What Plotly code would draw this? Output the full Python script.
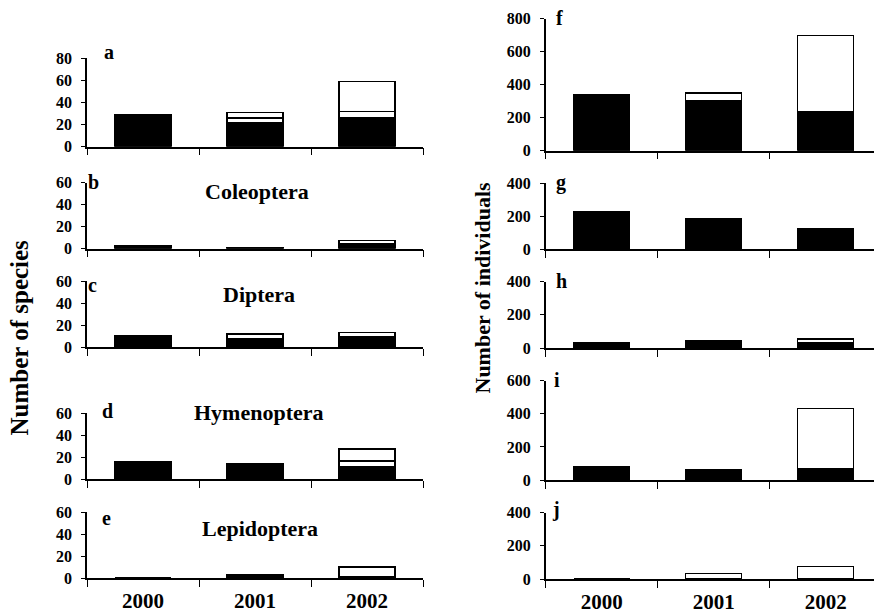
import plotly.graph_objects as go

W, H = 874, 616

years = ["2000", "2001", "2002"]

# ---- Number of species (left column) ----
a_black = [29, 22, 26]
a_white1 = [0, 4, 6]
a_white2 = [0, 5, 27]

b_black = [3, 1, 5]
b_white = [0, 0, 2.5]

c_black = [10, 8, 9]
c_white = [0, 4, 4.5]

d_black = [16, 13, 11]
d_white1 = [0, 1, 5.5]
d_white2 = [0, 0, 11]

e_black = [0, 3, 1]
e_white = [0, 0, 9]

# ---- Number of individuals (right column) ----
f_black = [337, 301, 234]
f_white = [0, 49, 465]

g_black = [230, 185, 125]

h_black = [35, 45, 33]
h_white = [0, 0, 22]

i_black = [80, 60, 68]
i_white = [0, 5, 365]

j_black = [0, 3, 0]
j_white = [0, 29, 77]

species_ticks_a = [0, 20, 40, 60, 80]
species_ticks = [0, 20, 40, 60]
ind_ticks_f = [0, 200, 400, 600, 800]
ind_ticks_i = [0, 200, 400, 600]
ind_ticks = [0, 200, 400]

BLACK, WHITE = "black", "white"

# panel: letter, title, list of (values, fill), ymax, ticks, column, top px, bottom px
panels = [
    ("a", None, [(a_black, BLACK), (a_white1, WHITE), (a_white2, WHITE)], 80, species_ticks_a, 0, 58, 146.7),
    ("b", "Coleoptera", [(b_black, BLACK), (b_white, WHITE)], 60, species_ticks, 0, 182.7, 248.7),
    ("c", "Diptera", [(c_black, BLACK), (c_white, WHITE)], 60, species_ticks, 0, 281.3, 347),
    ("d", "Hymenoptera", [(d_black, BLACK), (d_white1, WHITE), (d_white2, WHITE)], 60, species_ticks, 0, 413.3, 479.3),
    ("e", "Lepidoptera", [(e_black, BLACK), (e_white, WHITE)], 60, species_ticks, 0, 512.3, 578),
    ("f", None, [(f_black, BLACK), (f_white, WHITE)], 800, ind_ticks_f, 1, 18.7, 150.7),
    ("g", None, [(g_black, BLACK)], 400, ind_ticks, 1, 183.3, 249),
    ("h", None, [(h_black, BLACK), (h_white, WHITE)], 400, ind_ticks, 1, 281.7, 348),
    ("i", None, [(i_black, BLACK), (i_white, WHITE)], 600, ind_ticks_i, 1, 380.7, 480),
    ("j", None, [(j_black, BLACK), (j_white, WHITE)], 400, ind_ticks, 1, 512.7, 579),
]

col_x = [(87, 423, 2.5), (545.7, 874, -0.5 + (874 - 545.7) / 112.0)]

letter_pos = {
    "a": (108.7, 52.5), "b": (93.7, 182.3), "c": (92, 285), "d": (107, 410.5), "e": (106.7, 518.3),
    "f": (559.7, 18.3), "g": (561, 182.3), "h": (561, 281.5), "i": (557, 380), "j": (556, 509),
}
title_pos = {
    "Coleoptera": (256.7, 191), "Diptera": (259, 294.6),
    "Hymenoptera": (259, 412.6), "Lepidoptera": (259.7, 528.3),
}

FONT = "Liberation Serif"


def px(x):
    return x / W


def py(y):
    return 1 - y / H


fig = go.Figure()
layout = dict(
    width=W, height=H, margin=dict(l=0, r=0, t=0, b=0, autoexpand=False),
    paper_bgcolor="white", plot_bgcolor="white",
    barmode="stack", showlegend=False,
    font=dict(family=FONT, color="black"),
)
annotations = []

for n, (letter, title, segs, ymax, ticks, col, top, bottom) in enumerate(panels, start=1):
    suffix = "" if n == 1 else str(n)
    x0, x1, xend = col_x[col]
    is_bottom = letter in ("e", "j")
    for vals, fill in segs:
        fig.add_trace(go.Bar(
            x=years, y=vals, xaxis="x" + suffix, yaxis="y" + suffix,
            width=0.5, marker=dict(color=fill, line=dict(color="black", width=1.4)),
            hoverinfo="skip",
        ))
    layout["xaxis" + suffix] = dict(
        domain=[px(x0), px(x1)], anchor="y" + suffix, type="category",
        categoryorder="array", categoryarray=years, range=[-0.5, xend],
        showline=True, linecolor="black", linewidth=1.5,
        ticks="outside", tickson="boundaries", ticklen=7, tickwidth=1.2, tickcolor="black",
        showticklabels=is_bottom, showgrid=False, zeroline=False, ticklabelstandoff=3,
        tickfont=dict(family=FONT, size=21, weight="bold", color="black"),
    )
    layout["yaxis" + suffix] = dict(
        domain=[py(bottom), py(top)], anchor="x" + suffix, range=[0, ymax],
        tickmode="array", tickvals=ticks,
        showline=True, linecolor="black", linewidth=1.5,
        ticks="outside", ticklen=4, tickwidth=1.2, tickcolor="black",
        showgrid=False, zeroline=False, ticklabelstandoff=6,
        tickfont=dict(family=FONT, size=16, weight="bold", color="black"),
    )
    lx, ly = letter_pos[letter]
    annotations.append(dict(
        text=letter, x=px(lx), y=py(ly), xref="paper", yref="paper",
        xanchor="center", yanchor="middle", showarrow=False,
        font=dict(family=FONT, size=20, weight="bold", color="black"),
    ))
    if title:
        tx, ty = title_pos[title]
        annotations.append(dict(
            text=title, x=px(tx), y=py(ty), xref="paper", yref="paper",
            xanchor="center", yanchor="middle", showarrow=False,
            font=dict(family=FONT, size=22, weight="bold", color="black"),
        ))

annotations.append(dict(
    text="Number of species", x=px(19), y=py(337.5), xref="paper", yref="paper",
    xanchor="center", yanchor="middle", showarrow=False, textangle=-90,
    font=dict(family=FONT, size=25, weight="bold", color="black"),
))
annotations.append(dict(
    text="Number of individuals", x=px(482), y=py(287.5), xref="paper", yref="paper",
    xanchor="center", yanchor="middle", showarrow=False, textangle=-90,
    font=dict(family=FONT, size=22, weight="bold", color="black"),
))

layout["annotations"] = annotations
fig.update_layout(**layout)
fig.write_html(
    "out.html",
    config={"displayModeBar": False},
    post_script="document.body.style.margin='0';document.body.style.overflow='hidden';",
)
